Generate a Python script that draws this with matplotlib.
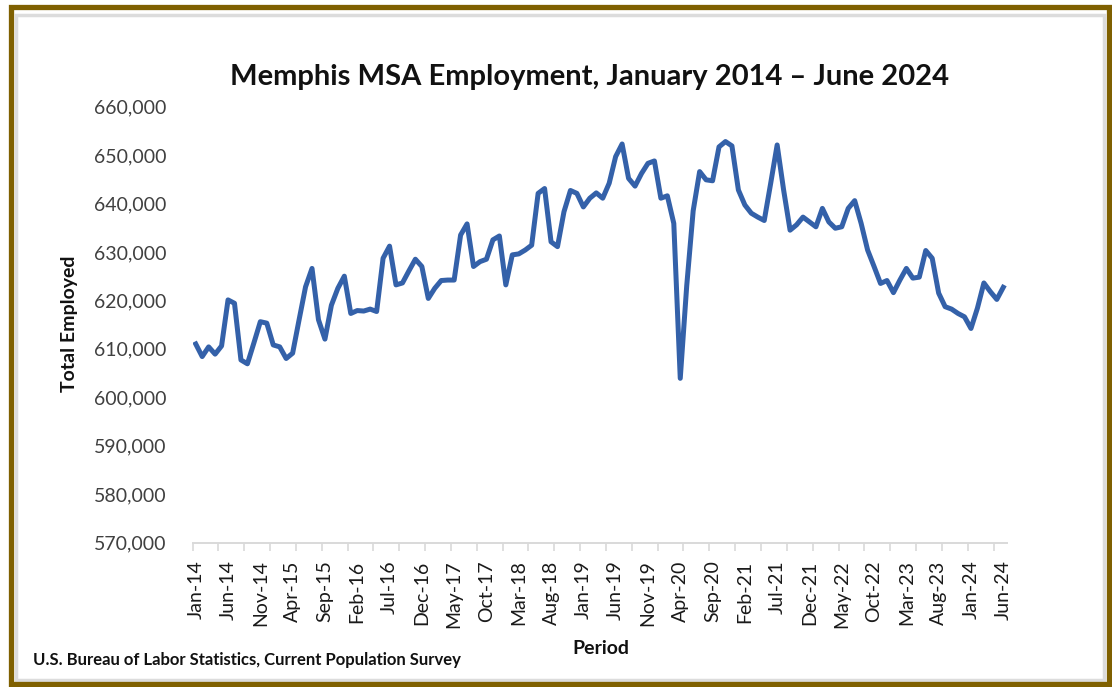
import matplotlib
matplotlib.use("Agg")
import matplotlib.pyplot as plt
from matplotlib.patches import Rectangle
from matplotlib.ticker import FuncFormatter, FixedLocator
import numpy as np

plt.rcParams['font.family'] = ['Lato', 'DejaVu Sans']

# monthly totals, thousands employed (Jan 2014 .. Jun 2024)
emp_2014 = [611.0, 608.4, 610.4, 608.9, 610.6, 620.1, 619.4, 607.7, 606.9, 611.2, 615.6, 615.3]
emp_2015 = [610.8, 610.4, 608.0, 609.1, 616.0, 622.8, 626.6, 616.0, 612.0, 619.0, 622.5, 625.0]
emp_2016 = [617.3, 617.9, 617.8, 618.2, 617.7, 628.7, 631.2, 623.2, 623.6, 626.1, 628.5, 627.0]
emp_2017 = [620.4, 622.5, 624.1, 624.2, 624.2, 633.5, 635.8, 627.0, 628.0, 628.5, 632.5, 633.3]
emp_2018 = [623.2, 629.4, 629.6, 630.4, 631.4, 642.1, 643.1, 632.1, 631.1, 638.3, 642.7, 642.1]
emp_2019 = [639.3, 641.1, 642.2, 641.1, 644.2, 649.7, 652.3, 645.2, 643.6, 646.2, 648.3, 648.8]
emp_2020 = [641.1, 641.6, 635.9, 603.9, 623.0, 638.5, 646.6, 644.9, 644.7, 651.7, 652.8, 651.9]
emp_2021 = [642.8, 639.7, 638.0, 637.2, 636.5, 644.2, 652.1, 642.8, 634.5, 635.6, 637.2, 636.2]
emp_2022 = [635.2, 639.0, 636.2, 634.9, 635.2, 639.0, 640.6, 635.9, 630.4, 627.0, 623.5, 624.1]
emp_2023 = [621.6, 624.2, 626.6, 624.6, 624.8, 630.3, 628.7, 621.5, 618.7, 618.2, 617.3, 616.6]
emp_2024 = [614.2, 618.4, 623.6, 621.8, 620.2, 622.7]

tick_labels = ["Jan-14", "Jun-14", "Nov-14", "Apr-15", "Sep-15", "Feb-16", "Jul-16",
               "Dec-16", "May-17", "Oct-17", "Mar-18", "Aug-18", "Jan-19", "Jun-19",
               "Nov-19", "Apr-20", "Sep-20", "Feb-21", "Jul-21", "Dec-21", "May-22",
               "Oct-22", "Mar-23", "Aug-23", "Jan-24", "Jun-24"]

employed = np.array(emp_2014 + emp_2015 + emp_2016 + emp_2017 + emp_2018 + emp_2019
                    + emp_2020 + emp_2021 + emp_2022 + emp_2023 + emp_2024) * 1000
months = np.arange(len(employed))

W, H = 1112, 687
fig = plt.figure(figsize=(W / 100, H / 100), dpi=100)
fig.patch.set_facecolor("white")
ax = fig.add_axes([192.5 / W, 1 - 542.5 / H, 814 / W, 435.8 / H])

ax.plot(months, employed, color="#3461a9", linewidth=3.6, solid_joinstyle="round")

ax.set_xlim(-0.5, len(employed) - 0.5)
ax.set_ylim(570000, 660000)
ax.set_yticks(np.arange(570000, 660001, 10000))
ax.yaxis.set_major_formatter(FuncFormatter(lambda v, _: f"{v:,.0f}"))
ax.tick_params(axis="y", length=0, pad=19, labelsize=14, labelcolor="#404040")

ax.set_xticks(months[::5])
ax.set_xticklabels(tick_labels, rotation=90, fontsize=14, color="#1a1a1a")
ax.xaxis.set_minor_locator(FixedLocator(np.arange(-0.5, len(employed) - 1, 4)))
ax.tick_params(axis="x", which="major", length=0, pad=13)
ax.tick_params(axis="x", which="minor", length=6, width=1.2, color="#d9d9d9")

for s in ["top", "right", "left"]:
    ax.spines[s].set_visible(False)
ax.spines["bottom"].set_color("#d9d9d9")
ax.spines["bottom"].set_linewidth(1.4)

fig.text(589 / W, 1 - 77 / H, "Memphis MSA Employment, January 2014 \u2013 June 2024",
         ha="center", va="center", fontsize=21, fontweight="bold", color="#111111")
fig.text(70 / W, 1 - 324 / H, "Total Employed", rotation=90, ha="center", va="center",
         fontsize=14, fontweight="bold", color="#111111")
fig.text(601 / W, 1 - 649 / H, "Period", ha="center", va="center",
         fontsize=14, fontweight="bold", color="#111111")
fig.text(33 / W, 1 - 660 / H, "U.S. Bureau of Labor Statistics, Current Population Survey",
         ha="left", va="center", fontsize=12, fontweight="bold", color="#111111")

# frame round the picture
fig.patches.append(Rectangle((15.5 / W, 1 - 679.5 / H), 1088 / W, 665 / H, transform=fig.transFigure,
                             fill=False, edgecolor="#dcdcdc", linewidth=2.5))
fig.patches.append(Rectangle((10.5 / W, 1 - 683.5 / H), 1098 / W, 677 / H, transform=fig.transFigure,
                             fill=False, edgecolor="#7f6000", linewidth=3.8))

fig.savefig("out.png", dpi=100, facecolor="white")
